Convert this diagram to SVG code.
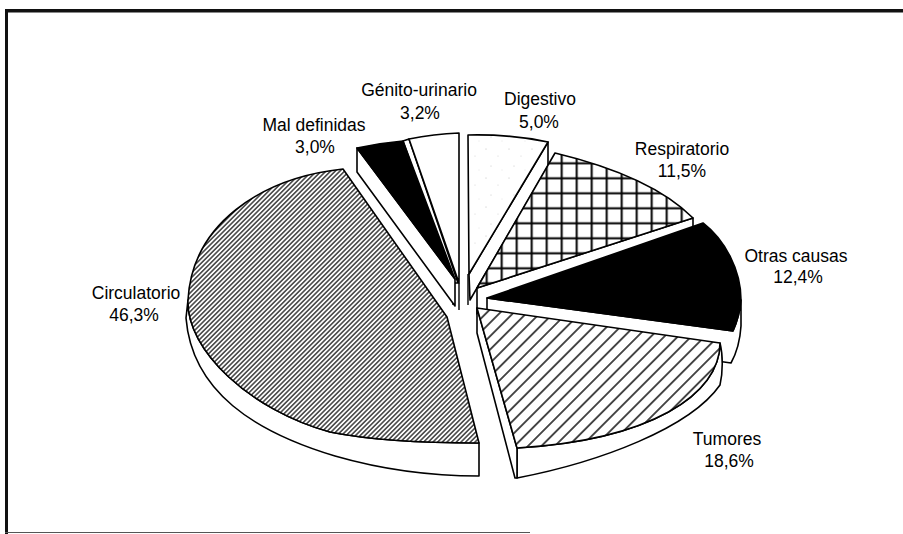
<svg xmlns="http://www.w3.org/2000/svg" width="903" height="534" viewBox="0 0 903 534">
<style>
.o{stroke:#000;stroke-width:1.6;stroke-linejoin:round;fill:#fff}
.k{fill:#000;stroke:#000;stroke-width:1.6;stroke-linejoin:round}
.ln{stroke:#000;stroke-width:1.4;fill:none}
text{font-family:"Liberation Sans",Arial,Helvetica,sans-serif;font-size:17.5px;fill:#000;text-anchor:middle}
</style>
<defs>
<pattern id="hC" width="3.3" height="3.3" patternUnits="userSpaceOnUse" patternTransform="rotate(-45)">
<rect width="3.3" height="3.3" fill="#fff"/><line x1="0" y1="1.65" x2="3.3" y2="1.65" stroke="#000" stroke-width="1.15"/>
</pattern>
<pattern id="hT" width="9.5" height="9.5" patternUnits="userSpaceOnUse" patternTransform="rotate(-45)">
<rect width="9.5" height="9.5" fill="#fff"/><line x1="0" y1="4.75" x2="9.5" y2="4.75" stroke="#000" stroke-width="1.4"/>
</pattern>
<pattern id="grid" x="-0.8" y="5.8" width="15" height="15" patternUnits="userSpaceOnUse">
<rect width="15" height="15" fill="#fff"/><path d="M0 7.5H15M7.5 0V15" stroke="#000" stroke-width="2"/>
</pattern>
<pattern id="stip" width="23" height="29" patternUnits="userSpaceOnUse">
<rect width="23" height="29" fill="#fff"/><circle cx="3" cy="4" r="0.55" fill="#bbb"/><circle cx="15" cy="11" r="0.5" fill="#ccc"/><circle cx="8" cy="21" r="0.5" fill="#bbb"/><circle cx="19" cy="25" r="0.45" fill="#ccc"/>
</pattern>
</defs>
<g id="frame">
<rect x="5" y="9" width="898" height="3.5" fill="#111"/>
<rect x="5" y="9" width="3" height="525" fill="#111"/>
<line x1="5" y1="532.5" x2="530" y2="532.5" stroke="#555" stroke-width="1"/>
</g>
<g id="genito">
<path class="o" d="M403,141 L409,139 L458,283 L453,283 Z"/>
<path class="o" d="M409,139 Q434,134 459,133 L459,283 Z"/>
<path class="ln" d="M459,283 V310 M453,283 V305"/>
</g>
<g id="maldefinidas">
<path class="o" d="M357,148 L357,172 L455,306 L455,279 Z"/>
<path class="k" d="M357,148 Q380,143 403,141 L455,279 Z"/>
</g>
<g id="digestivo">
<path class="o" d="M548,142 L548,166 L470,300 L469,274 Z"/>
<path class="o" style="fill:url(#stip)" d="M468,135 Q510,134 548,142 L469,274 Z"/>
<path class="ln" d="M468,274 V305"/>
</g>
<g id="respiratorio">
<path class="o" d="M477,288 L693,218 L693,244 L477,314 Z"/>
<path class="o" style="fill:url(#grid)" d="M477,288 L555,153 C605,165 660,185 693,218 Z"/>
</g>
<g id="otras">
<path class="o" d="M487,298 L733,331 C737,322 740,312 741,300 L741,326 C740,342 736,354 731,363 L487,328 Z"/>
<path class="k" d="M487,298 L703,223 C725,240 741,270 741,300 C740,312 737,322 733,331 Z"/>
</g>
<g id="circulatorio">
<path class="o" d="M188,300 C186,350 250,410 330,432 C370,440 430,443 479,443 L479,476 C430,476 380,469 335,456 C255,432 192,392 186,318 Z"/>
<path class="o" style="fill:url(#hC)" d="M447,317 L343,169 C260,178 192,225 188,300 C186,350 250,410 330,432 C370,440 430,443 479,443 Z"/>
</g>
<g id="tumores">
<path class="o" d="M720,343 C720,395 650,440 517,448 L517,478 C600,462 690,428 720,385 C723,372 723,355 720,343 Z"/>
<path class="o" d="M477,308 L477,333 L515,478 L517,478 L517,448 Z"/>
<path class="o" style="fill:url(#hT)" d="M477,308 L720,343 C720,395 650,440 517,448 Z"/>
</g>
<g id="labels">
<text x="419" y="96">Génito-urinario</text>
<text x="420" y="119">3,2%</text>
<text x="540" y="105">Digestivo</text>
<text x="539" y="128">5,0%</text>
<text x="314" y="131">Mal definidas</text>
<text x="315" y="153">3,0%</text>
<text x="682" y="155">Respiratorio</text>
<text x="682" y="177">11,5%</text>
<text x="796" y="262">Otras causas</text>
<text x="798" y="283">12,4%</text>
<text x="727" y="445">Tumores</text>
<text x="729" y="467">18,6%</text>
<text x="136" y="299">Circulatorio</text>
<text x="134" y="321">46,3%</text>
</g>
</svg>
